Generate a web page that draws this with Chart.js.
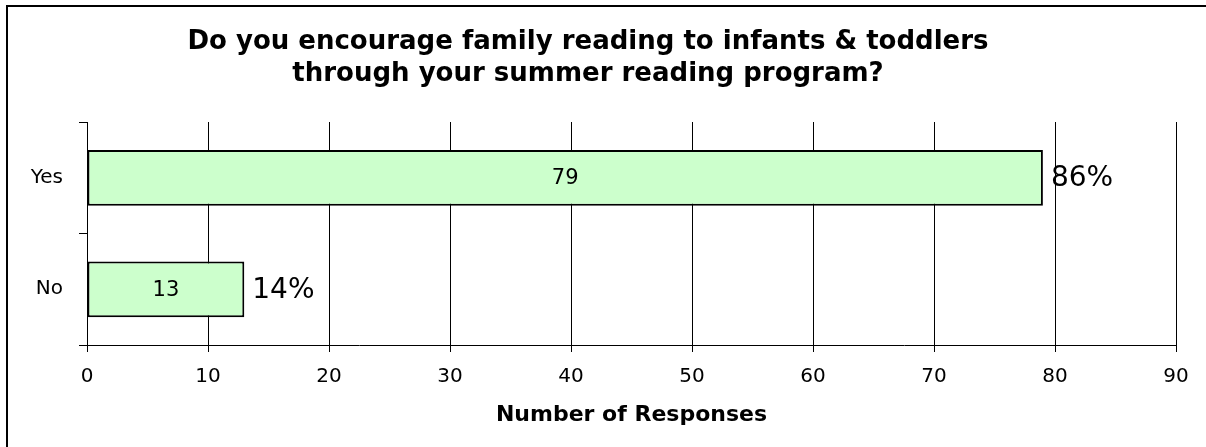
<!DOCTYPE html>
<html>
<head>
<meta charset="utf-8">
<script src="https://cdn.jsdelivr.net/npm/chart.js@4"></script>
<style>
  html, body { margin: 0; padding: 0; background: #fff; }
  #wrap { width: 1206px; height: 447px; position: relative; }
</style>
</head>
<body>
<div id="wrap"><canvas id="myChart" width="1206" height="447"></canvas></div>
<script>
// data
const categories = ["Yes", "No"];
const responses = [79, 13];
const shares = ["86%", "14%"];
const xTicks = [0, 10, 20, 30, 40, 50, 60, 70, 80, 90];

const titleLines = [
  "Do you encourage family reading to infants & toddlers",
  "through your summer reading program?"
];
const FONT = "'DejaVu Sans', Verdana, sans-serif";

// frame round the whole chart (only left and top edges show)
const framePlugin = {
  id: "frame",
  beforeDraw(chart) {
    const ctx = chart.ctx;
    ctx.save();
    ctx.fillStyle = "#fff";
    ctx.fillRect(0, 0, chart.width, chart.height);
    ctx.strokeStyle = "#000";
    ctx.lineWidth = 2;
    ctx.beginPath();
    ctx.moveTo(7, chart.height);
    ctx.lineTo(7, 6);
    ctx.lineTo(chart.width, 6);
    ctx.stroke();
    ctx.restore();
  }
};

// value inside each bar, share after its end
const labelPlugin = {
  id: "barLabels",
  afterDatasetsDraw(chart) {
    const ctx = chart.ctx;
    const bars = chart.getDatasetMeta(0).data;
    ctx.save();
    ctx.fillStyle = "#000";
    ctx.textBaseline = "middle";
    bars.forEach((bar, i) => {
      ctx.font = "21px " + FONT;
      ctx.textAlign = "center";
      ctx.fillText(String(responses[i]), (bar.x + bar.base) / 2, bar.y + 1);
      ctx.font = "28px " + FONT;
      ctx.textAlign = "left";
      ctx.fillText(shares[i], bar.x + 8, bar.y + 1);
    });
    ctx.restore();
  }
};

function renderChart() {
  const ctx = document.getElementById("myChart").getContext("2d");
  new Chart(ctx, {
    type: "bar",
    data: {
      labels: categories,
      datasets: [{
        data: responses,
        backgroundColor: "#CCFFCC",
        borderColor: "#000",
        borderWidth: 2,
        borderSkipped: false,
        categoryPercentage: 1,
        barPercentage: 0.5
      }]
    },
    options: {
      indexAxis: "y",
      responsive: false,
      animation: false,
      layout: { padding: { left: 0, right: 30, top: 0, bottom: 0 } },
      plugins: {
        legend: { display: false },
        tooltip: { enabled: false },
        title: {
          display: true,
          text: titleLines,
          color: "#000",
          font: { family: FONT, size: 26, weight: "bold", lineHeight: 1.2 },
          padding: { top: 27, bottom: 32.6 }
        }
      },
      scales: {
        x: {
          min: 0,
          max: 90,
          afterFit: (scale) => { scale.height = 102; },
          afterBuildTicks: (scale) => { scale.ticks = xTicks.map(v => ({ value: v })); },
          ticks: { color: "#000", padding: 13, font: { family: FONT, size: 20 } },
          grid: { color: "#000", lineWidth: 1, tickLength: 7 },
          border: { display: true, color: "#000", width: 1 },
          title: {
            display: true,
            text: "Number of Responses",
            color: "#000",
            font: { family: FONT, size: 22, weight: "bold", lineHeight: 1.2 },
            padding: { top: 0, bottom: 19 }
          }
        },
        y: {
          afterFit: (scale) => { scale.width = 87; },
          ticks: { color: "#000", padding: 16, font: { family: FONT, size: 20 } },
          grid: { drawOnChartArea: false, color: "#000", tickLength: 8, offset: true },
          border: { display: true, color: "#000", width: 1 }
        }
      }
    },
    plugins: [framePlugin, labelPlugin]
  });
}

document.addEventListener("DOMContentLoaded", renderChart);
</script>
</body>
</html>
